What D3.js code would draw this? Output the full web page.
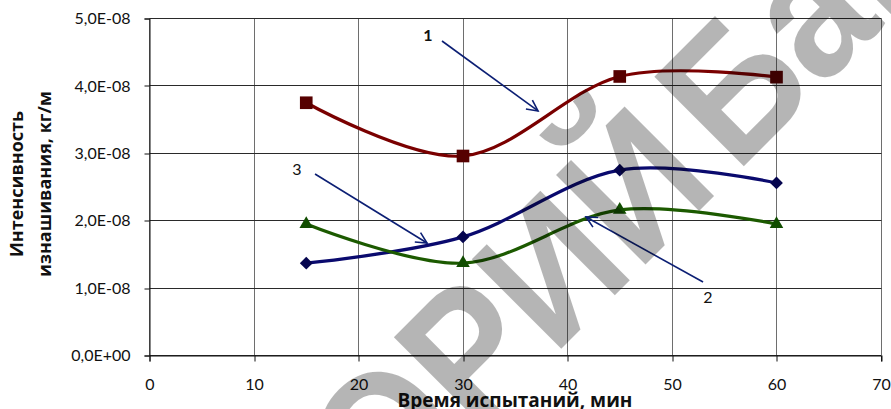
<!DOCTYPE html>
<html>
<head>
<meta charset="utf-8">
<script src="https://cdn.jsdelivr.net/npm/d3@7"></script>
<style>
  body { margin: 0; background: #fff; }
  svg { display: block; }
</style>
</head>
<body>
<svg id="chart" width="891" height="409"></svg>
<script>
// Test duration, min
const times = [15, 30, 45, 60];
// Wear intensity, kg/m
const series1 = [3.75e-8, 2.96e-8, 4.14e-8, 4.13e-8];
const series2 = [1.95e-8, 1.37e-8, 2.16e-8, 1.95e-8];
const series3 = [1.37e-8, 1.76e-8, 2.75e-8, 2.56e-8];

const xTicks = [0, 10, 20, 30, 40, 50, 60, 70];
const yTicks = [0, 1e-8, 2e-8, 3e-8, 4e-8, 5e-8];
const yTickLabels = ["0,0E+00", "1,0E-08", "2,0E-08", "3,0E-08", "4,0E-08", "5,0E-08"];

const xTitle = "Время испытаний, мин";
const yTitle = ["Интенсивность", "изнашивания, кг/м"];

// Curve callouts: label, label anchor, arrow tail and arrow head (data units)
const calloutLabels = ["1", "2", "3"];
const calloutLabelAt = [[26.65, 4.755e-8], [53.44, 0.86e-8], [14.11, 2.767e-8]];
const calloutTail = [[27.99, 4.666e-8], [52.97, 1.09e-8], [15.84, 2.693e-8]];
const calloutHead = [[37.18, 3.628e-8], [41.77, 2.055e-8], [26.56, 1.669e-8]];

const stampText = ["РЕПОЗИТОРИЙ", "БарГУ"];

const svg = d3.select("#chart");
const W = 891, H = 409;
svg.append("rect").attr("width", W).attr("height", H).attr("fill", "#fff");

const x = d3.scaleLinear().domain([0, 70]).range([149.5, 881]);
const y = d3.scaleLinear().domain([0, 5e-8]).range([355.5, 18.5]);
const crisp = v => Math.round(v - 0.5) + 0.5;

const tickFont = "Lato, 'Open Sans', sans-serif";
const titleFont = "'Open Sans', Lato, sans-serif";

// grid
const grid = svg.append("g");
grid.selectAll("line.v").data(xTicks).join("line")
  .attr("x1", d => crisp(x(d))).attr("x2", d => crisp(x(d)))
  .attr("y1", y(5e-8)).attr("y2", y(0))
  .attr("stroke", "#6e6e6e").attr("stroke-width", 1);
grid.selectAll("line.h").data(yTicks).join("line")
  .attr("x1", x(0)).attr("x2", crisp(x(70)))
  .attr("y1", d => crisp(y(d))).attr("y2", d => crisp(y(d)))
  .attr("stroke", "#2a2a2a").attr("stroke-width", 1);

// axes
const yAxis = d3.axisLeft(y).tickValues(yTicks)
  .tickFormat((d, i) => yTickLabels[i]).tickSize(5).tickPadding(14);
const gy = svg.append("g").attr("transform", `translate(${crisp(x(0))},0)`).call(yAxis);
gy.selectAll("line").attr("transform", function(d){ return `translate(0,${crisp(y(d)) - y(d)})`; });

const xAxis = d3.axisBottom(x).tickValues(xTicks).tickSize(6).tickPadding(17);
const gx = svg.append("g").attr("transform", `translate(0,${crisp(y(0))})`).call(xAxis);
gx.selectAll("line").attr("transform", function(d){ return `translate(${crisp(x(d)) - x(d)},0)`; });

[gx, gy].forEach(g => {
  g.select(".domain").attr("stroke", "#111");
  g.selectAll(".tick line").attr("stroke", "#111");
  g.selectAll(".tick text").attr("fill", "#111")
    .style("font-family", tickFont).style("font-size", "16px");
});

// axis titles
svg.append("text")
  .attr("x", 515).attr("y", 407)
  .attr("text-anchor", "middle")
  .style("font-family", titleFont).style("font-weight", "bold").style("font-size", "19px")
  .attr("fill", "#111")
  .text(xTitle);

const yt = svg.append("g").attr("transform", "translate(0,184) rotate(-90)");
yt.selectAll("text").data(yTitle).join("text")
  .attr("x", 0).attr("y", (d, i) => i === 0 ? 23 : 51)
  .attr("text-anchor", "middle")
  .style("font-family", titleFont).style("font-weight", "bold").style("font-size", "18px")
  .attr("fill", "#111")
  .text(d => d);

// smoothed series lines
const line = d3.line()
  .x(d => x(d[0])).y(d => y(d[1]))
  .curve(d3.curveCatmullRom.alpha(0));

const seriesDefs = [
  { values: series1, stroke: "#7a0000", fill: "#560000", symbol: "square" },
  { values: series3, stroke: "#0a0a6e", fill: "#05054f", symbol: "diamond" },
  { values: series2, stroke: "#1c5a00", fill: "#114d00", symbol: "triangle" }
];

seriesDefs.forEach(s => {
  const pts = times.map((t, i) => [t, s.values[i]]);
  svg.append("path")
    .attr("d", line(pts))
    .attr("fill", "none")
    .attr("stroke", s.stroke)
    .attr("stroke-width", 3.2)
    .attr("stroke-linejoin", "round");
  const sym = s.symbol === "square" ? d3.symbol(d3.symbolSquare, 160)
            : s.symbol === "diamond" ? d3.symbol(d3.symbolSquare, 82)
            : d3.symbol(d3.symbolTriangle, 80);
  svg.append("g").selectAll("path").data(pts).join("path")
    .attr("d", sym())
    .attr("transform", d => `translate(${x(d[0])},${y(d[1])})` + (s.symbol === "diamond" ? " rotate(45)" : ""))
    .attr("fill", s.fill);
});

// callout arrows
const defs = svg.append("defs");
defs.append("marker")
  .attr("id", "openArrow")
  .attr("viewBox", "-12 -7 14 14")
  .attr("refX", 0).attr("refY", 0)
  .attr("markerWidth", 14).attr("markerHeight", 14)
  .attr("markerUnits", "userSpaceOnUse")
  .attr("orient", "auto")
  .append("path")
  .attr("d", "M-11,-5.5 L0,0 L-11,5.5")
  .attr("fill", "none").attr("stroke", "#0c1f74").attr("stroke-width", 1.6);

calloutLabels.forEach((lab, i) => {
  svg.append("line")
    .attr("x1", x(calloutTail[i][0])).attr("y1", y(calloutTail[i][1]))
    .attr("x2", x(calloutHead[i][0])).attr("y2", y(calloutHead[i][1]))
    .attr("stroke", "#0c1f74").attr("stroke-width", 1.6)
    .attr("marker-end", "url(#openArrow)");
  svg.append("text")
    .attr("x", x(calloutLabelAt[i][0])).attr("y", y(calloutLabelAt[i][1]))
    .attr("dy", "0.36em")
    .attr("text-anchor", "middle")
    .style("font-family", tickFont).style("font-size", "16px")
    .style("font-weight", i === 0 ? "bold" : "normal")
    .attr("fill", "#111")
    .text(lab);
});

// repository stamp across the chart (condensed bold lettering)
const stampScale = 0.9;
const stamp = svg.append("g")
  .attr("transform", `translate(736,174) rotate(-45) scale(${stampScale},1)`)
  .style("font-family", "'Liberation Sans', Arial, sans-serif")
  .style("font-weight", "bold").style("font-size", "184px")
  .attr("fill", "#000").attr("fill-opacity", 0.29);
stamp.append("text").attr("x", -20 / stampScale).attr("y", 0).attr("text-anchor", "end").text(stampText[0]);
stamp.append("text").attr("x", 0).attr("y", 0).attr("text-anchor", "start").text(stampText[1]);
</script>
</body>
</html>
